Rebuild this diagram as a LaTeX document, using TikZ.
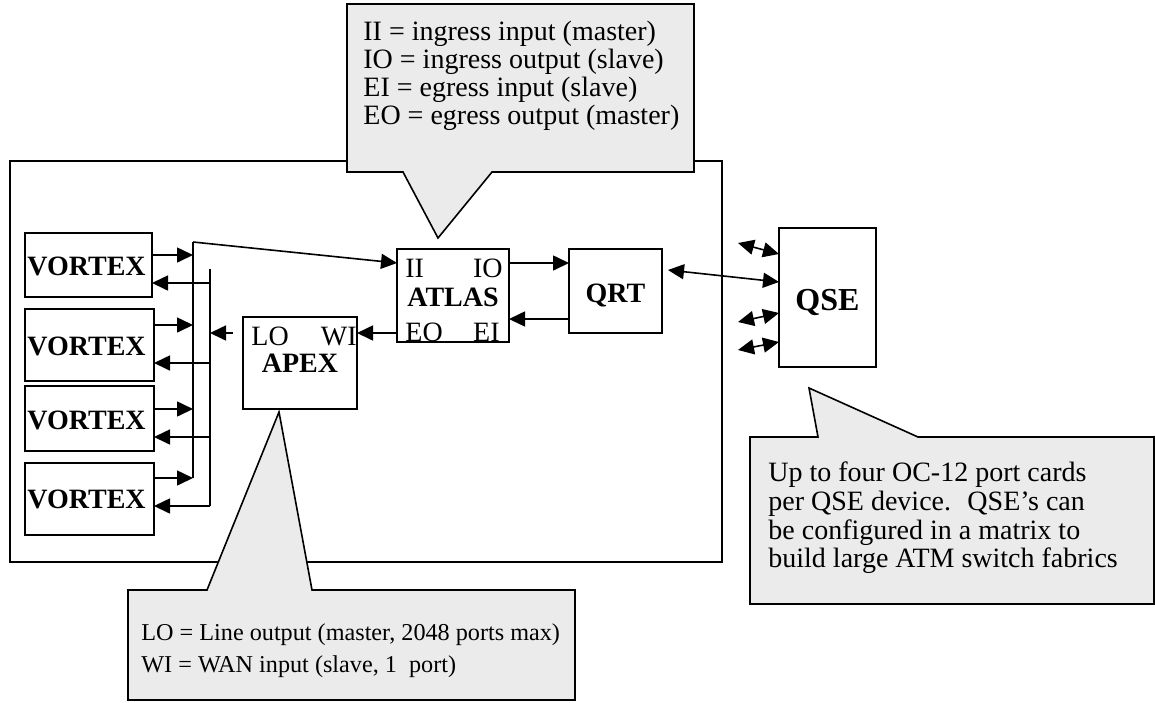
\documentclass[tikz,border=0pt]{standalone}
\usepackage{fontspec}
\setmainfont{Liberation Serif}
\usetikzlibrary{arrows.meta}
\definecolor{calloutgray}{RGB}{235,235,235}
\begin{document}
\begin{tikzpicture}[x=0.5pt,y=-0.5pt,
  box/.style={draw, line width=0.8pt, inner sep=0pt, outer sep=0pt},
  arr/.style={line width=0.8pt, -{Triangle[length=8pt,width=7.5pt]}},
  darr/.style={line width=0.8pt, {Triangle[length=8pt,width=7.5pt]}-{Triangle[length=8pt,width=7.5pt]}},
  callout/.style={draw, line width=0.8pt, fill=calloutgray, line join=miter},
  lbl/.style={font=\fontsize{14}{16}\selectfont, inner sep=0pt},
  devname/.style={font=\fontsize{14}{16}\selectfont\bfseries, inner sep=0pt, anchor=base},
  note/.style={font=\fontsize{14}{16}\selectfont, inner sep=0pt, anchor=base west},
  smallnote/.style={font=\fontsize{12.1}{14}\selectfont, inner sep=0pt, anchor=base west}]
\useasboundingbox (0,0) rectangle (1155,702);

% outer board
\node[box, minimum width=356pt, minimum height=200.5pt] (outer) at (366,361.5) {};

% devices
\node[box, minimum width=63.5pt, minimum height=32pt]   (v1) at (88.5,265) {};
\node[box, minimum width=64.5pt, minimum height=36pt]   (v2) at (89.5,345) {};
\node[box, minimum width=64.5pt, minimum height=32.5pt] (v3) at (89.5,418.5) {};
\node[box, minimum width=64.5pt, minimum height=36pt]   (v4) at (89.5,499) {};
\node[box, minimum width=56pt, minimum height=46.5pt]   (atlas) at (453,295.5) {};
\node[box, minimum width=57pt, minimum height=46pt]     (apex) at (300,363) {};
\node[box, minimum width=46.5pt, minimum height=42pt]   (qrt) at (615.5,291) {};
\node[box, minimum width=48.5pt, minimum height=69.5pt] (qse) at (827.5,297.5) {};

% device labels
\node[devname, anchor=base west] (v1t) at (27,275) {VORTEX};
\node[devname, anchor=base west] (v2t) at (27,355) {VORTEX};
\node[devname, anchor=base west] (v3t) at (27,429) {VORTEX};
\node[devname, anchor=base west] (v4t) at (27,508) {VORTEX};
\node[devname] (atlast) at (453,306) {ATLAS};
\node[devname] (apext) at (300,372) {APEX};
\node[devname] (qrtt) at (615.5,302) {QRT};
\node[devname, font=\fontsize{16}{18}\selectfont\bfseries] (qset) at (827.5,310) {QSE};

% port labels
\node[lbl, anchor=base west] (pII) at (405,277) {II};
\node[lbl, anchor=base east] (pIO) at (503,277) {IO};
\node[lbl, anchor=base west] (pEO) at (405,341) {EO};
\node[lbl, anchor=base east] (pEI) at (500,341) {EI};
\node[lbl, anchor=base west] (pLO) at (251,345) {LO};
\node[lbl, anchor=base east] (pWI) at (357,345) {WI};

% bus coordinates
\coordinate (lbtop) at (193,242);
\coordinate (lb1) at (193,255);
\coordinate (lb2) at (193,325);
\coordinate (lb3) at (193,409);
\coordinate (lb4) at (193,478);
\coordinate (rbtop) at (210,269);
\coordinate (rb1) at (210,283);
\coordinate (rb2) at (210,363);
\coordinate (rb3) at (210,437);
\coordinate (rb4) at (210,506);
\coordinate (rbA) at (210,333);
\coordinate (apexLO) at (233,333);
\coordinate (yII) at (0,263);
\coordinate (yEO) at (0,333);
\coordinate (yEI) at (0,319);
\coordinate (qrtR) at (668,270);
\coordinate (yQ) at (0,282);
\coordinate (qa) at (738,243);
\coordinate (qb) at (738,322);
\coordinate (qc) at (738,350);
\coordinate (yqa) at (0,254);
\coordinate (yqb) at (0,313);
\coordinate (yqc) at (0,342);

% buses
\draw[line width=0.8pt] (lb4) -- (lbtop);
\draw[arr] (lbtop) -- (atlas.west |- yII);
\draw[line width=0.8pt] (rbtop) -- (rb4);
\draw[arr] (v1.east |- lb1) -- (lb1);
\draw[arr] (v2.east |- lb2) -- (lb2);
\draw[arr] (v3.east |- lb3) -- (lb3);
\draw[arr] (v4.east |- lb4) -- (lb4);
\draw[arr] (rb1) -- (v1.east |- rb1);
\draw[arr] (rb2) -- (v2.east |- rb2);
\draw[arr] (rb3) -- (v3.east |- rb3);
\draw[arr] (rb4) -- (v4.east |- rb4);
\draw[arr] (apexLO) -- (rbA);

% device links
\draw[arr] (atlas.west |- yEO) -- (apex.east |- yEO);
\draw[arr] (atlas.east |- yII) -- (qrt.west |- yII);
\draw[arr] (qrt.west |- yEI) -- (atlas.east |- yEI);
\draw[darr] (qrtR) -- (qse.west |- yQ);
\draw[darr] (qa) -- (qse.west |- yqa);
\draw[darr] (qb) -- (qse.west |- yqb);
\draw[darr] (qc) -- (qse.west |- yqc);

% callouts
\draw[callout] (347,4) -- (694,4) -- (694,172) -- (492,172) -- (438,238) -- (403,172) -- (347,172) -- cycle;
\draw[callout] (128,590) -- (207,590) -- (279,412) -- (312,590) -- (575,590) -- (575,700) -- (128,700) -- cycle;
\draw[callout] (750,437) -- (818,437) -- (809,388) -- (918,437) -- (1154,437) -- (1154,604) -- (750,604) -- cycle;

\node[note] (n1) at (363,40)   {II = ingress input (master)};
\node[note] (n2) at (363,68)   {IO = ingress output (slave)};
\node[note] (n3) at (363,96.5) {EI = egress input (slave)};
\node[note] (n4) at (363,124)  {EO = egress output (master)};

\node[smallnote] (m1) at (141,640) {LO = Line output (master, 2048 ports max)};
\node[smallnote] (m2) at (141,672) {WI = WAN input (slave, 1~ port)};

\node[note] (r1) at (768,481) {Up to four OC-12 port cards};
\node[note] (r2) at (768,510) {per QSE device.~ QSE’s can};
\node[note] (r3) at (768,539) {be configured in a matrix to};
\node[note] (r4) at (768,567) {build large ATM switch fabrics};
\end{tikzpicture}
\end{document}
